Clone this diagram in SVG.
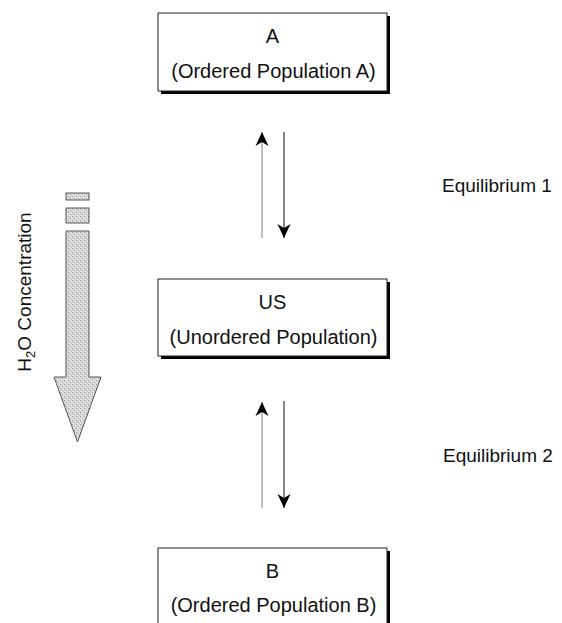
<svg xmlns="http://www.w3.org/2000/svg" width="562" height="623" viewBox="0 0 562 623">
<style>
text{font-family:"Liberation Sans",Arial,sans-serif;font-size:20px;fill:#111}
.box{fill:#fff;stroke:#222;stroke-width:1}
.shadow{fill:#000}
.up{stroke:#9a9a9a;stroke-width:1.3;fill:none}
.down{stroke:#444;stroke-width:1.3;fill:none}
.lbl{font-size:19px}
.vert{font-size:19px}
.conc{fill:url(#dots);stroke:#555;stroke-width:1}
</style>
<defs>
<marker id="head" markerUnits="userSpaceOnUse" markerWidth="16" markerHeight="16" viewBox="-15 -8 16 16" refX="0" refY="0" orient="auto">
<path d="M0,0 L-14,-6.5 L-10,0 L-14,6.5 Z" fill="#000"/>
</marker>
<pattern id="dots" patternUnits="userSpaceOnUse" width="4" height="4">
<rect width="4" height="4" fill="#d8d8d8"/>
<rect x="0" y="0" width="1" height="1" fill="#999"/>
<rect x="2" y="2" width="1" height="1" fill="#a6a6a6"/>
<rect x="3" y="1" width="1" height="1" fill="#eeeeee"/>
<rect x="1" y="3" width="1" height="1" fill="#eeeeee"/>
</pattern>
</defs>

<g id="nodeA">
<rect class="shadow" x="161" y="16" width="229" height="78"/>
<rect class="box" x="158" y="13" width="229" height="78"/>
<text x="272.5" y="43" text-anchor="middle">A</text>
<text x="273.5" y="78" text-anchor="middle">(Ordered Population A)</text>
</g>

<g id="nodeUS">
<rect class="shadow" x="161" y="282" width="229" height="77"/>
<rect class="box" x="158" y="279" width="229" height="77"/>
<text x="272.5" y="309" text-anchor="middle">US</text>
<text x="273.5" y="344" text-anchor="middle">(Unordered Population)</text>
</g>

<g id="nodeB">
<rect class="shadow" x="161" y="551" width="229" height="78"/>
<rect class="box" x="158" y="548" width="229" height="78"/>
<text x="272.5" y="578" text-anchor="middle">B</text>
<text x="273.5" y="612" text-anchor="middle">(Ordered Population B)</text>
</g>

<g id="connectors">
<line class="up" x1="262" y1="238" x2="262" y2="132" marker-end="url(#head)"/>
<line class="down" x1="284" y1="132" x2="284" y2="238" marker-end="url(#head)"/>
<line class="up" x1="262" y1="508" x2="262" y2="402" marker-end="url(#head)"/>
<line class="down" x1="284" y1="401" x2="284" y2="508" marker-end="url(#head)"/>
</g>

<g id="labels">
<text class="lbl" x="442" y="192">Equilibrium 1</text>
<text class="lbl" x="443" y="462">Equilibrium 2</text>
</g>

<g id="concentration">
<rect class="conc" x="66" y="193" width="23" height="7"/>
<rect class="conc" x="66" y="208" width="23" height="15"/>
<path class="conc" d="M66,231 L89,231 L89,377 L101,377 L77.5,442 L54,377 L66,377 Z"/>
<text class="vert" transform="translate(31,292) rotate(-90)" text-anchor="middle">H<tspan font-size="13" dy="4">2</tspan><tspan dy="-4">O Concentration</tspan></text>
</g>
</svg>
